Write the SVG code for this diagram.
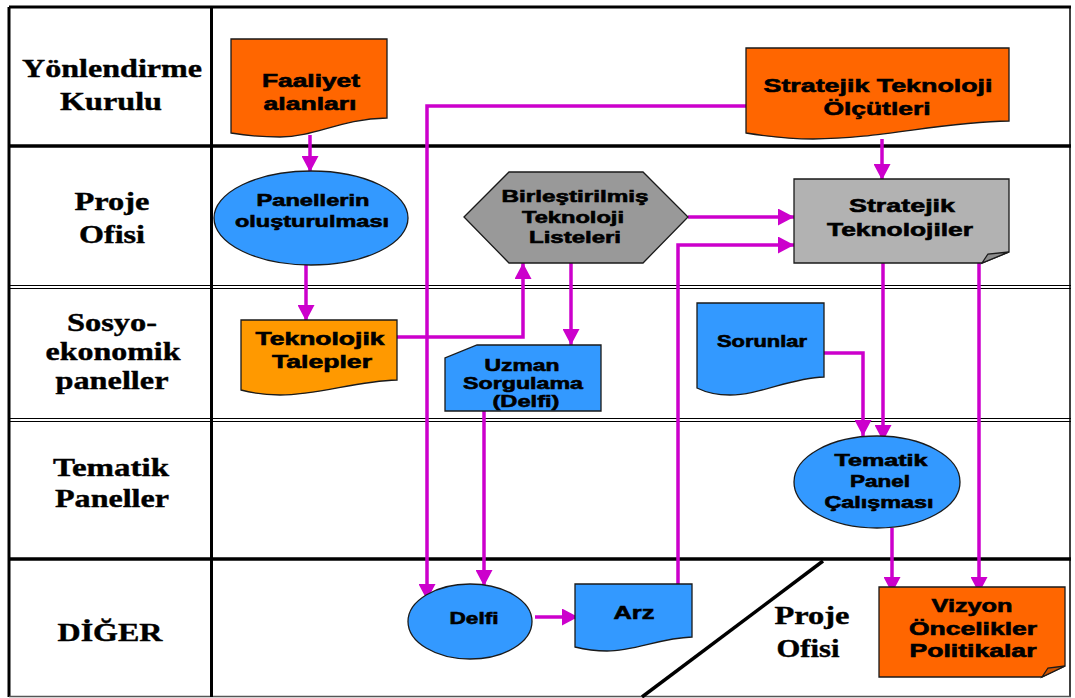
<svg xmlns="http://www.w3.org/2000/svg" width="1075" height="698" viewBox="0 0 1075 698">
  <style>
    .lane { font-family: "Liberation Serif", "Times New Roman", serif; font-weight: bold; font-size: 25px; text-anchor: middle; fill: #000; stroke: #000; stroke-width: 0.4; }
    .lbl { font-family: "Liberation Sans", Arial, sans-serif; font-weight: bold; text-anchor: middle; fill: #000; stroke: #000; stroke-width: 0.6; }
    .s18 { font-size: 18px; }
    .s17 { font-size: 17px; }
    .s16 { font-size: 16.5px; }
    .s19 { font-size: 19px; }
    .shape { stroke: #1a1a1a; stroke-width: 1.3; }
    .orange { fill: #FF6600; }
    .lorange { fill: #FF9900; }
    .blue { fill: #3399FF; }
    .grey { fill: #999999; }
    .lgrey { fill: #B2B2B2; }
    .edge { fill: none; stroke: #CC00CC; stroke-width: 3.5; }
    .grid { stroke: #000; fill: none; }
  </style>
  <defs>
    <marker id="arrow" viewBox="0 0 16 17" markerUnits="userSpaceOnUse" markerWidth="16" markerHeight="17" refX="16" refY="8.5" orient="auto">
      <path d="M0,0 L16,8.5 L0,17 Z" fill="#CC00CC"/>
    </marker>
  </defs>

  <rect width="1075" height="698" fill="#fff"/>

  <!-- swimlane table -->
  <g id="table">
    <line class="grid" x1="9" y1="7" x2="1071" y2="7" stroke-width="3"/>
    <line class="grid" x1="9" y1="7" x2="9" y2="697" stroke-width="3"/>
    <line class="grid" x1="1070" y1="7" x2="1070" y2="697" stroke-width="1.5"/>
    <line x1="9" y1="696.5" x2="1071" y2="696.5" stroke="#555" stroke-width="1.5"/>
    <line class="grid" x1="211.5" y1="7" x2="211.5" y2="697" stroke-width="3"/>
    <line class="grid" x1="9" y1="146" x2="1071" y2="146" stroke-width="3.5"/>
    <line class="grid" x1="9" y1="285.5" x2="1071" y2="285.5" stroke-width="1.2"/>
    <line class="grid" x1="9" y1="288.5" x2="1071" y2="288.5" stroke-width="1.2"/>
    <line class="grid" x1="9" y1="418.5" x2="1071" y2="418.5" stroke-width="1.2"/>
    <line class="grid" x1="9" y1="421.5" x2="1071" y2="421.5" stroke-width="1.2"/>
    <line class="grid" x1="9" y1="559" x2="1071" y2="559" stroke-width="3.5"/>
    <!-- diagonal split of the bottom lane -->
    <line class="grid" x1="823" y1="561" x2="642" y2="697" stroke-width="3.5"/>
  </g>

  <!-- lane titles -->
  <g id="lane-titles">
    <text class="lane" x="112" y="77" textLength="180" lengthAdjust="spacingAndGlyphs">Yönlendirme</text>
    <text class="lane" x="111" y="110" textLength="102" lengthAdjust="spacingAndGlyphs">Kurulu</text>
    <text class="lane" x="112" y="210" textLength="75" lengthAdjust="spacingAndGlyphs">Proje</text>
    <text class="lane" x="112" y="243" textLength="66" lengthAdjust="spacingAndGlyphs">Ofisi</text>
    <text class="lane" x="112" y="331" textLength="90" lengthAdjust="spacingAndGlyphs">Sosyo-</text>
    <text class="lane" x="113" y="360" textLength="135" lengthAdjust="spacingAndGlyphs">ekonomik</text>
    <text class="lane" x="112" y="389" textLength="113" lengthAdjust="spacingAndGlyphs">paneller</text>
    <text class="lane" x="111" y="476" textLength="116" lengthAdjust="spacingAndGlyphs">Tematik</text>
    <text class="lane" x="112" y="507" textLength="114" lengthAdjust="spacingAndGlyphs">Paneller</text>
    <text class="lane" x="110" y="641" textLength="105" lengthAdjust="spacingAndGlyphs">DİĞER</text>
    <text class="lane" x="812" y="624" textLength="75" lengthAdjust="spacingAndGlyphs">Proje</text>
    <text class="lane" x="808" y="657" textLength="63" lengthAdjust="spacingAndGlyphs">Ofisi</text>
  </g>

  <!-- connectors -->
  <g id="connectors">
    <path class="edge" d="M310,135 V172" marker-end="url(#arrow)"/>
    <path class="edge" d="M306,265 V321" marker-end="url(#arrow)"/>
    <path class="edge" d="M397,337 H523 V263" marker-end="url(#arrow)"/>
    <path class="edge" d="M571,263 V345" marker-end="url(#arrow)"/>
    <path class="edge" d="M484,411 V586" marker-end="url(#arrow)"/>
    <path class="edge" d="M746,106 H427 V600" marker-end="url(#arrow)"/>
    <path class="edge" d="M535,617 H578" marker-end="url(#arrow)"/>
    <path class="edge" d="M678,584 V245 H794" marker-end="url(#arrow)"/>
    <path class="edge" d="M688,217 H794" marker-end="url(#arrow)"/>
    <path class="edge" d="M882,139 V180" marker-end="url(#arrow)"/>
    <path class="edge" d="M883,263 V441" marker-end="url(#arrow)"/>
    <path class="edge" d="M824,353 H863 V436" marker-end="url(#arrow)"/>
    <path class="edge" d="M979,258 V593" marker-end="url(#arrow)"/>
    <path class="edge" d="M892,528 V593" marker-end="url(#arrow)"/>
  </g>

  <g id="faaliyet-alanlari">
    <path class="shape orange" d="M231,39 H387 V118 C340,119 315,137 280,137 C258,137 243,135 231,133 Z"/>
    <text class="lbl s18" x="311" y="87" textLength="98" lengthAdjust="spacingAndGlyphs">Faaliyet</text>
    <text class="lbl s18" x="310" y="110" textLength="93" lengthAdjust="spacingAndGlyphs">alanları</text>
  </g>

  <g id="stratejik-teknoloji-olcutleri">
    <path class="shape orange" d="M746,48 H1009 V121 C940,122 880,139 813,139 C785,139 765,136 746,133 Z"/>
    <text class="lbl s19" x="878" y="92" textLength="229" lengthAdjust="spacingAndGlyphs">Stratejik Teknoloji</text>
    <text class="lbl s19" x="877" y="115" textLength="107" lengthAdjust="spacingAndGlyphs">Ölçütleri</text>
  </g>

  <g id="panellerin-olusturulmasi">
    <ellipse class="shape blue" cx="311" cy="218" rx="97" ry="47"/>
    <text class="lbl s17" x="313" y="206" textLength="113" lengthAdjust="spacingAndGlyphs">Panellerin</text>
    <text class="lbl s17" x="312" y="227" textLength="154" lengthAdjust="spacingAndGlyphs">oluşturulması</text>
  </g>

  <g id="birlestirilmis-teknoloji-listeleri">
    <path class="shape grey" d="M464,217 L509,172 H643 L688,217 L643,263 H509 Z"/>
    <text class="lbl s16" x="575" y="202" textLength="147" lengthAdjust="spacingAndGlyphs">Birleştirilmiş</text>
    <text class="lbl s16" x="573" y="223" textLength="102" lengthAdjust="spacingAndGlyphs">Teknoloji</text>
    <text class="lbl s16" x="575" y="243" textLength="92" lengthAdjust="spacingAndGlyphs">Listeleri</text>
  </g>

  <g id="stratejik-teknolojiler">
    <path class="shape lgrey" d="M794,179 H1009 V252 L982,263 H794 Z"/>
    <path class="shape" d="M982,263 L988,254 L1009,252 Z" fill="#8C8C8C"/>
    <text class="lbl s19" x="902" y="212" textLength="106" lengthAdjust="spacingAndGlyphs">Stratejik</text>
    <text class="lbl s19" x="900" y="236" textLength="146" lengthAdjust="spacingAndGlyphs">Teknolojiler</text>
  </g>

  <g id="teknolojik-talepler">
    <path class="shape lorange" d="M241,320 H397 V380 C355,381 320,395 280,395 C262,395 252,393 241,390 Z"/>
    <text class="lbl s18" x="320" y="345" textLength="129" lengthAdjust="spacingAndGlyphs">Teknolojik</text>
    <text class="lbl s18" x="322" y="368" textLength="100" lengthAdjust="spacingAndGlyphs">Talepler</text>
  </g>

  <g id="uzman-sorgulama">
    <path class="shape blue" d="M477,345 H601 V411 H445 V358 Z"/>
    <text class="lbl s17" x="522" y="371" textLength="75" lengthAdjust="spacingAndGlyphs">Uzman</text>
    <text class="lbl s17" x="523" y="389" textLength="120" lengthAdjust="spacingAndGlyphs">Sorgulama</text>
    <text class="lbl s17" x="526" y="407" textLength="67" lengthAdjust="spacingAndGlyphs">(Delfi)</text>
  </g>

  <g id="sorunlar">
    <path class="shape blue" d="M697,303 H824 V377 C790,378 760,395 730,395 C715,395 705,392 697,388 Z"/>
    <text class="lbl s16" x="762" y="347" textLength="90" lengthAdjust="spacingAndGlyphs">Sorunlar</text>
  </g>

  <g id="tematik-panel-calismasi">
    <ellipse class="shape blue" cx="877" cy="482" rx="83" ry="46"/>
    <text class="lbl s16" x="881" y="466" textLength="93" lengthAdjust="spacingAndGlyphs">Tematik</text>
    <text class="lbl s16" x="880" y="487" textLength="60" lengthAdjust="spacingAndGlyphs">Panel</text>
    <text class="lbl s16" x="879" y="508" textLength="109" lengthAdjust="spacingAndGlyphs">Çalışması</text>
  </g>

  <g id="delfi">
    <ellipse class="shape blue" cx="470" cy="621.5" rx="62" ry="37.5"/>
    <text class="lbl s17" x="474" y="624" textLength="49" lengthAdjust="spacingAndGlyphs">Delfi</text>
  </g>

  <g id="arz">
    <path class="shape blue" d="M575,584 H692 V637 C660,638 635,651 607,651 C592,651 583,649 575,647 Z"/>
    <text class="lbl s19" x="634" y="619" textLength="41" lengthAdjust="spacingAndGlyphs">Arz</text>
  </g>

  <g id="vizyon-oncelikler-politikalar">
    <path class="shape orange" d="M879,587 H1065 V666 L1042,677 H879 Z"/>
    <path class="shape" d="M1042,677 L1048,668 L1065,666 Z" fill="#CC5200"/>
    <text class="lbl s18" x="972" y="612" textLength="81" lengthAdjust="spacingAndGlyphs">Vizyon</text>
    <text class="lbl s18" x="973" y="635" textLength="128" lengthAdjust="spacingAndGlyphs">Öncelikler</text>
    <text class="lbl s18" x="973" y="657" textLength="127" lengthAdjust="spacingAndGlyphs">Politikalar</text>
  </g>
</svg>
